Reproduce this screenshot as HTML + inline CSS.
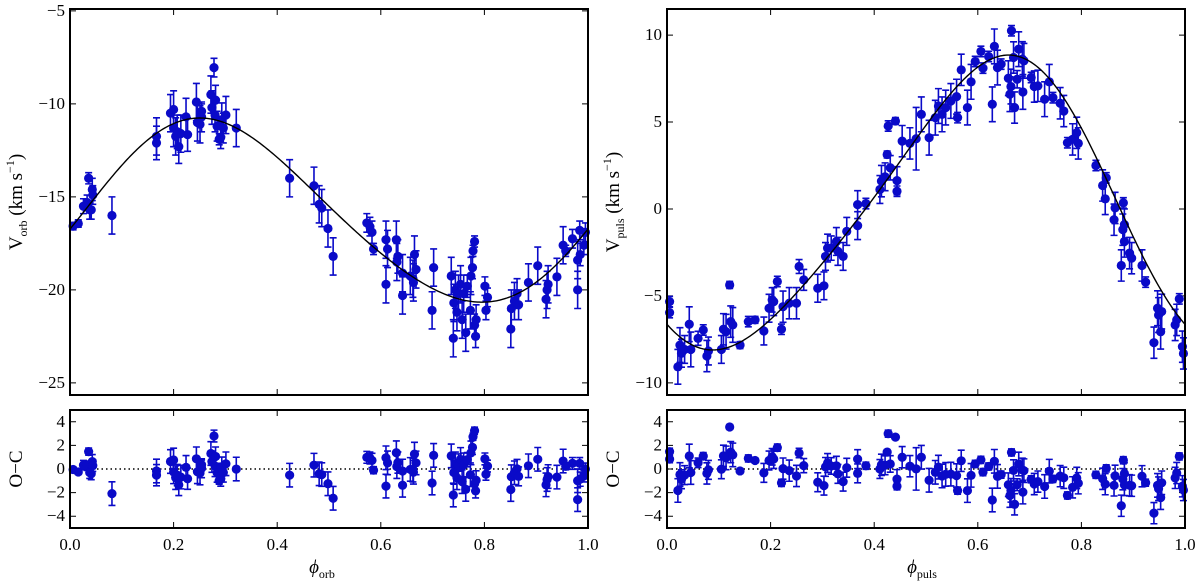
<!DOCTYPE html>
<html><head><meta charset="utf-8">
<style>
html,body{margin:0;padding:0;background:#fff;}
svg{display:block;}
text{font-family:"Liberation Serif",serif;fill:#000;}
</style></head>
<body>
<svg id="chart" width="1200" height="583" viewBox="0 0 1200 583" xmlns="http://www.w3.org/2000/svg"></svg>
<script>
// ---- Orbital panel data ----
const orbPhase = [0.006,0.016,0.026,0.033,0.036,0.038,0.041,0.043,0.044,0.081,0.167,0.167,0.194,0.2,0.2,0.204,0.207,0.21,0.214,0.224,0.227,0.244,0.246,0.251,0.254,0.254,0.272,0.274,0.278,0.28,0.281,0.284,0.288,0.291,0.293,0.296,0.301,0.321,0.424,0.471,0.481,0.486,0.498,0.508,0.573,0.579,0.583,0.586,0.61,0.61,0.613,0.63,0.631,0.633,0.642,0.642,0.657,0.662,0.663,0.665,0.668,0.699,0.702,0.736,0.74,0.741,0.744,0.747,0.75,0.754,0.757,0.76,0.764,0.767,0.773,0.774,0.777,0.778,0.781,0.781,0.783,0.784,0.801,0.803,0.806,0.851,0.852,0.858,0.863,0.866,0.885,0.903,0.919,0.921,0.923,0.94,0.952,0.957,0.97,0.98,0.98,0.985,0.984,0.992,0.995];
const orbV = [-16.57,-16.43,-15.5,-15.3,-14.0,-15.7,-15.7,-14.6,-14.9,-16.0,-11.75,-12.1,-10.5,-10.3,-11.3,-11.75,-11.5,-12.3,-11.6,-10.7,-11.65,-9.9,-11.0,-11.1,-10.4,-10.7,-9.5,-10.2,-8.05,-10.6,-9.8,-11.2,-11.9,-11.8,-10.85,-11.3,-10.6,-11.3,-14.0,-14.4,-15.4,-15.6,-16.7,-18.2,-16.4,-16.6,-16.9,-17.8,-17.3,-19.7,-17.8,-17.3,-18.5,-18.2,-19.1,-20.3,-19.25,-19.4,-19.6,-18.1,-18.9,-21.1,-18.8,-19.25,-22.6,-20.7,-20.0,-21.2,-20.2,-19.7,-21.6,-20.2,-22.3,-19.8,-21.1,-19.25,-18.8,-17.9,-17.4,-21.9,-22.5,-21.6,-19.8,-21.1,-20.4,-22.1,-21.0,-20.6,-20.2,-20.8,-19.6,-18.7,-20.5,-20.0,-19.7,-19.3,-17.6,-17.9,-17.25,-18.4,-20.0,-18.1,-16.8,-17.6,-16.9];
const orbErr = [0.2,0.2,0.4,0.4,0.3,0.5,0.5,0.6,0.5,1.0,1.0,0.9,1.0,1.0,1.0,1.0,0.9,0.9,1.0,1.0,0.9,1.0,1.0,1.0,0.4,0.8,1.0,0.9,0.5,0.9,0.8,0.8,0.3,0.6,0.9,0.8,1.0,1.0,1.0,1.0,1.0,1.0,1.0,1.0,0.5,0.5,0.6,0.3,1.0,1.0,1.0,1.0,1.0,0.9,1.0,1.0,1.0,1.0,1.0,1.0,1.0,1.0,1.0,1.0,1.0,1.0,1.0,1.0,1.0,1.0,1.0,1.0,1.0,0.6,1.0,1.0,0.6,0.3,0.3,0.6,0.6,0.8,0.5,0.5,0.5,1.0,1.0,1.0,0.8,0.8,1.0,1.0,1.0,1.0,1.0,1.0,1.0,0.3,0.5,1.0,1.0,0.6,0.5,0.5,0.5];
// orbital fit parameters: offset, amp1, phase, amp2(cos), amp2(sin)
const orbFit = [-15.87, 4.9, 0.27, 0.167, -0.35];

// ---- Pulsation panel data ----
const pulPhase = [0.005,0.005,0.021,0.025,0.028,0.034,0.043,0.046,0.06,0.07,0.077,0.08,0.105,0.109,0.114,0.121,0.123,0.127,0.141,0.157,0.17,0.187,0.197,0.203,0.206,0.213,0.221,0.224,0.236,0.25,0.255,0.264,0.291,0.303,0.306,0.31,0.317,0.327,0.33,0.34,0.347,0.368,0.368,0.384,0.411,0.414,0.421,0.425,0.427,0.441,0.431,0.444,0.444,0.454,0.469,0.481,0.491,0.506,0.518,0.524,0.531,0.538,0.548,0.559,0.561,0.568,0.58,0.587,0.595,0.606,0.61,0.621,0.628,0.632,0.638,0.645,0.659,0.662,0.664,0.665,0.669,0.671,0.676,0.679,0.686,0.687,0.689,0.703,0.709,0.716,0.729,0.738,0.745,0.759,0.766,0.773,0.783,0.791,0.794,0.828,0.841,0.848,0.846,0.865,0.863,0.881,0.883,0.88,0.883,0.877,0.893,0.897,0.917,0.924,0.94,0.947,0.949,0.953,0.955,0.981,0.984,0.989,0.995,0.997];
const pulV = [-5.33,-5.96,-9.08,-7.83,-8.3,-8.08,-6.63,-8.08,-7.44,-6.96,-8.46,-8.17,-8.08,-6.92,-7.06,-4.37,-6.48,-6.67,-7.83,-6.48,-6.38,-7.02,-5.71,-5.23,-5.33,-4.17,-6.92,-5.62,-5.42,-5.42,-3.31,-4.08,-4.56,-4.42,-2.73,-2.25,-2.25,-1.87,-2.44,-2.73,-1.29,0.25,-0.96,0.31,1.12,1.6,1.85,3.13,4.77,5.06,2.37,1.63,1.02,3.9,3.77,4.04,5.44,4.1,5.25,5.92,5.44,5.83,6.21,6.46,5.25,8.0,5.83,7.31,8.48,9.06,8.1,8.77,6.02,9.35,8.13,8.33,7.52,6.6,7.04,10.25,8.71,5.83,7.46,9.19,8.62,6.73,8.52,7.56,7.04,7.08,6.31,7.31,6.4,6.08,5.63,3.81,4.0,4.38,3.77,2.5,1.35,1.79,0.58,0.06,-0.62,0.35,-0.9,-1.19,-1.87,-3.25,-2.54,-2.83,-3.25,-4.21,-7.69,-5.71,-6.1,-7.06,-5.9,-6.67,-6.38,-5.17,-7.92,-8.31];
const pulErr = [0.3,0.3,1.0,1.0,0.8,0.8,1.0,1.0,0.4,0.3,0.9,0.8,0.8,0.9,1.0,0.2,0.9,1.0,0.2,0.3,0.2,0.8,0.8,0.7,0.8,0.3,0.3,0.9,0.9,0.9,0.4,0.6,0.8,0.8,0.8,0.8,0.7,0.8,0.8,0.8,0.8,0.8,0.8,0.3,0.8,0.9,0.8,0.2,0.3,0.2,0.7,0.8,0.3,0.9,0.9,1.8,1.0,1.0,1.0,1.0,1.0,1.0,1.0,1.0,0.3,0.9,1.0,1.0,0.3,0.3,0.3,0.3,1.0,1.0,1.0,0.3,1.0,1.0,1.0,0.3,0.9,0.9,0.5,1.0,1.0,1.0,1.0,0.3,0.9,0.9,1.0,1.0,0.3,0.9,0.9,0.3,0.9,0.9,0.9,0.3,0.9,0.3,0.9,0.9,0.9,0.3,0.9,0.9,0.9,0.9,0.9,0.9,0.9,0.3,0.9,1.0,1.0,1.0,1.0,0.9,0.9,0.3,0.9,0.9];
// pulsation fit parameters: offset, amp1, phase, amp2(cos), amp2(sin)
const pulFit = [0.1, 8.25, 0.628, 0.3, 1.0];

const xTicks = [0, 0.2, 0.4, 0.6, 0.8, 1.0];
const xTickLabels = ["0.0","0.2","0.4","0.6","0.8","1.0"];
const orbYTicks = [-5,-10,-15,-20,-25];
const pulYTicks = [10,5,0,-5,-10];
const resYTicks = [4,2,0,-2,-4];

function model(p, f){
  const d = f - p[2];
  return p[0] + p[1]*Math.cos(2*Math.PI*d) + p[3]*Math.cos(4*Math.PI*d) + p[4]*Math.sin(4*Math.PI*d);
}
function orbModel(f){ return model(orbFit,f); }
function pulModel(f){ return model(pulFit,f); }

const NS = "http://www.w3.org/2000/svg";
const svg = document.getElementById('chart');
function el(tag, attrs, parent){
  const e = document.createElementNS(NS, tag);
  for (const k in attrs) e.setAttribute(k, attrs[k]);
  (parent||svg).appendChild(e);
  return e;
}
const BLUE = "#0a0ac8";

function scaleLin(d0,d1,r0,r1){ return v => r0 + (v-d0)/(d1-d0)*(r1-r0); }

function drawPanel(name, x0, x1, y0, y1, ymin, ymax, yTicks, showXLabels){
  const g = el('g', {});
  
  
  const sx = scaleLin(0,1,x0,x1), sy = scaleLin(ymin,ymax,y1,y0);
  xTicks.forEach((t,i)=>{
    const x = sx(t);
    const tk = el('path', {d:`M${x},${y1}v-6M${x},${y0}v6`, stroke:'#000','stroke-width':1}, g);
    
    
    if (showXLabels){
      const tl = el('text', {x:x, y:y1+22, 'text-anchor':'middle','font-size':17}, g);
      tl.textContent = xTickLabels[i];
      
      
    }
  });
  yTicks.forEach(t=>{
    const y = sy(t);
    const tk = el('path', {d:`M${x0},${y}h6M${x1},${y}h-6`, stroke:'#000','stroke-width':1}, g);
    
    
    const tl = el('text', {x:x0-5, y:y+5, 'text-anchor':'end','font-size':17}, g);
    tl.textContent = (t<0?'\u2212':'') + Math.abs(t);
    
    
  });
  return {g, sx, sy};
}

function drawFrame(g,x0,x1,y0,y1){
  const r = el('rect',{x:x0,y:y0,width:x1-x0,height:y1-y0,fill:'none',stroke:'#000','stroke-width':2},g);
  
  
}

function drawPoints(g, sx, sy, phases, vals, errs, y0, y1){
  phases.forEach((f,i)=>{
    const x = sx(f), y = sy(vals[i]);
    const ya = Math.max(y0, sy(vals[i]+errs[i])), yb = Math.min(y1, sy(vals[i]-errs[i]));
    const eb = el('path',{d:`M${x},${ya}V${yb}M${x-3.5},${ya}h7M${x-3.5},${yb}h7`,stroke:BLUE,'stroke-width':1.6,fill:'none'},g);
    
    
    const c = el('circle',{cx:x,cy:y,r:4.6,fill:BLUE},g);
    
    
  });
}

function drawCurve(g, sx, sy, fn){
  let d = '';
  for (let i=0;i<=300;i++){ const f=i/300; d += (i?'L':'M') + sx(f).toFixed(2)+','+sy(fn(f)).toFixed(2); }
  const p = el('path',{d, fill:'none', stroke:'#000','stroke-width':1.4},g);
  
  
}

function buildSide(prefix, x0, x1, phases, vals, errs, fn, ymin, ymax, yTicks){
  const top = drawPanel(prefix+'-velocity-panel', x0, x1, 9, 395, ymin, ymax, yTicks, false);
  drawPoints(top.g, top.sx, top.sy, phases, vals, errs, 9, 395);
  drawCurve(top.g, top.sx, top.sy, fn);
  drawFrame(top.g, x0, x1, 9, 395);
  const res = vals.map((v,i)=> v - fn(phases[i]));
  const bot = drawPanel(prefix+'-residual-panel', x0, x1, 410, 528, -5, 5, resYTicks, true);
  const zl = el('line',{x1:x0,x2:x1,y1:bot.sy(0),y2:bot.sy(0),stroke:'#000','stroke-width':1.5,'stroke-dasharray':'1.5,3'},bot.g);
  
  
  drawPoints(bot.g, bot.sx, bot.sy, phases, res, errs, 410, 528);
  drawFrame(bot.g, x0, x1, 410, 528);
}

buildSide('orbital', 70, 588, orbPhase, orbV, orbErr, orbModel, -25.65, -4.9, orbYTicks);
buildSide('pulsation', 667, 1185, pulPhase, pulV, pulErr, pulModel, -10.7, 11.5, pulYTicks);

function title(name, x, y, html, rot){
  const t = el('text',{x, y, 'text-anchor':'middle','font-size':19, transform: rot?`rotate(-90 ${x} ${y})`:''});
  t.innerHTML = html;
  
  
}
title('orbital-y-axis-title', 22, 202, 'V<tspan font-size="12" dy="5">orb</tspan><tspan dy="-5"> (km s</tspan><tspan font-size="12" dy="-8">\u22121</tspan><tspan dy="8">)</tspan>', true);
title('pulsation-y-axis-title', 619, 202, 'V<tspan font-size="12" dy="5">puls</tspan><tspan dy="-5"> (km s</tspan><tspan font-size="12" dy="-8">\u22121</tspan><tspan dy="8">)</tspan>', true);
title('orbital-residual-y-title', 22, 469, 'O\u2212C', true);
title('pulsation-residual-y-title', 619, 469, 'O\u2212C', true);
title('orbital-x-axis-title', 322, 573, '<tspan font-style="italic">\u03D5</tspan><tspan font-size="12" dy="5">orb</tspan>', false);
title('pulsation-x-axis-title', 922, 573, '<tspan font-style="italic">\u03D5</tspan><tspan font-size="12" dy="5">puls</tspan>', false);
</script>
</body></html>
